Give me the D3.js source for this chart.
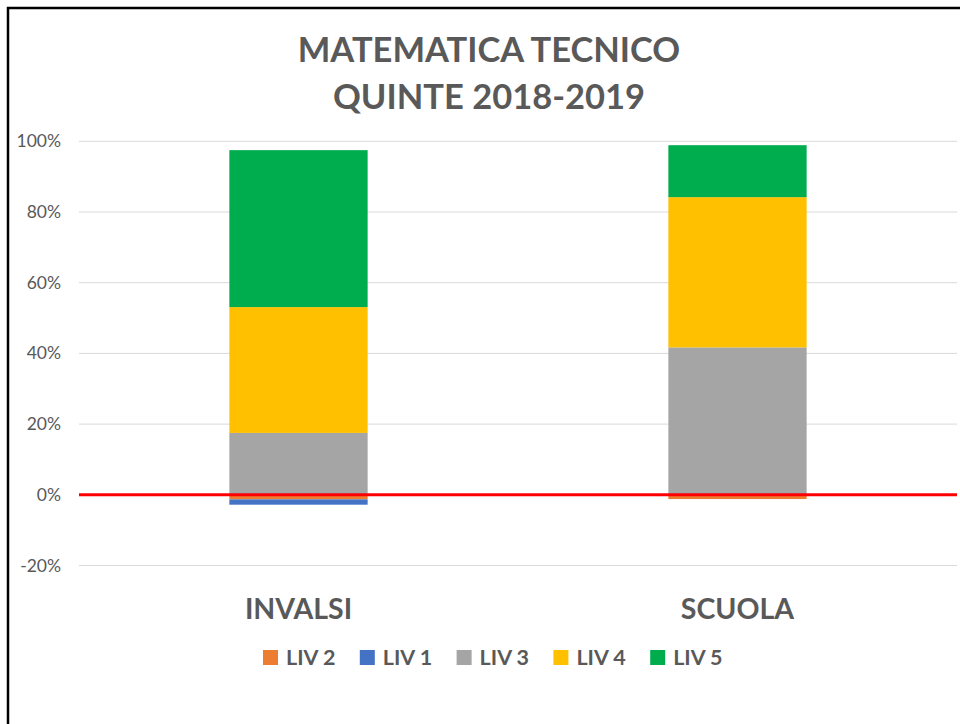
<!DOCTYPE html>
<html>
<head>
<meta charset="utf-8">
<script src="https://cdn.jsdelivr.net/npm/d3@7"></script>
<style>
  body { margin: 0; background: #fff; }
  svg { display: block; font-family: Lato, "Open Sans", sans-serif; }
</style>
</head>
<body>
<svg id="chart" width="960" height="724"></svg>
<script>
// * chart data (percent)
const categories = ["INVALSI", "SCUOLA"];
const seriesNames = ["LIV 2", "LIV 1", "LIV 3", "LIV 4", "LIV 5"];
const seriesColors = ["#ED7D31", "#4472C4", "#A5A5A5", "#FFC000", "#00AD4E"];
const liv2 = [-1.3, -1.2];
const liv1 = [-1.5, 0];
const liv3 = [17.5, 41.7];
const liv4 = [35.6, 42.5];
const liv5 = [44.4, 14.7];
const yTicks = [-20, 0, 20, 40, 60, 80, 100];
const titleLines = ["MATEMATICA TECNICO", "QUINTE 2018-2019"];

const values = [liv2, liv1, liv3, liv4, liv5];
const rows = categories.map((cat, i) => {
  const row = { cat };
  seriesNames.forEach((name, s) => (row[name] = values[s][i]));
  return row;
});

const svg = d3.select("#chart");
const textColor = "#595959";
const margin = { left: 79, right: 3 };
const plotRight = 960 - margin.right;

const x = d3.scaleBand().domain(categories).range([margin.left, plotRight]);
const y = d3.scaleLinear().domain([-20, 100]).range([565.5, 141.3]);
const barWidth = x.bandwidth() * 0.315;

// * frame
svg.append("rect")
  .attr("x", 8).attr("y", 8)
  .attr("width", 970).attr("height", 740)
  .attr("fill", "none").attr("stroke", "#000").attr("stroke-width", 2.5);

// * title
svg.append("g").selectAll("text")
  .data(titleLines).enter().append("text")
  .attr("x", 489).attr("y", (d, i) => 62 + i * 46.5)
  .attr("text-anchor", "middle")
  .attr("fill", textColor)
  .style("font-weight", "bold").style("font-size", "34.5px")
  .text((d) => d);

// * gridlines + y labels
const yAxis = svg.append("g");
yAxis.selectAll("line").data(yTicks).enter().append("line")
  .attr("x1", margin.left).attr("x2", plotRight)
  .attr("y1", (d) => y(d)).attr("y2", (d) => y(d))
  .attr("stroke", "#d9d9d9").attr("stroke-width", 1);
yAxis.selectAll("text").data(yTicks).enter().append("text")
  .attr("x", 61).attr("y", (d) => y(d) + 6)
  .attr("text-anchor", "end")
  .attr("fill", textColor)
  .style("font-size", "17.5px")
  .text((d) => `${d}%`);

// * stacked bars with negatives
const stack = d3.stack().keys(seriesNames).offset(d3.stackOffsetDiverging);
const stacked = stack(rows);
const bars = svg.append("g");
stacked.forEach((layer, s) => {
  bars.append("g").attr("fill", seriesColors[s])
    .selectAll("rect").data(layer).enter().append("rect")
    .attr("x", (d) => x(d.data.cat) + (x.bandwidth() - barWidth) / 2)
    .attr("width", barWidth)
    .attr("y", (d) => y(Math.max(d[0], d[1])))
    .attr("height", (d) => Math.abs(y(d[0]) - y(d[1])));
});

// * zero line
svg.append("line")
  .attr("x1", margin.left).attr("x2", plotRight)
  .attr("y1", y(0)).attr("y2", y(0))
  .attr("stroke", "#FF0000").attr("stroke-width", 3);

// * category labels
svg.append("g").selectAll("text")
  .data(categories).enter().append("text")
  .attr("x", (d) => x(d) + x.bandwidth() / 2).attr("y", 619)
  .attr("text-anchor", "middle")
  .attr("fill", textColor)
  .style("font-weight", "bold").style("font-size", "28.5px")
  .text((d) => d);

// * legend
const legend = svg.append("g").selectAll("g")
  .data(seriesNames).enter().append("g")
  .attr("transform", (d, i) => `translate(${263 + i * 96.8},650)`);
legend.append("rect").attr("width", 15).attr("height", 15)
  .attr("fill", (d, i) => seriesColors[i]);
legend.append("text")
  .attr("x", 23).attr("y", 15)
  .attr("fill", textColor)
  .style("font-weight", "bold").style("font-size", "21.5px")
  .text((d) => d);
</script>
</body>
</html>
